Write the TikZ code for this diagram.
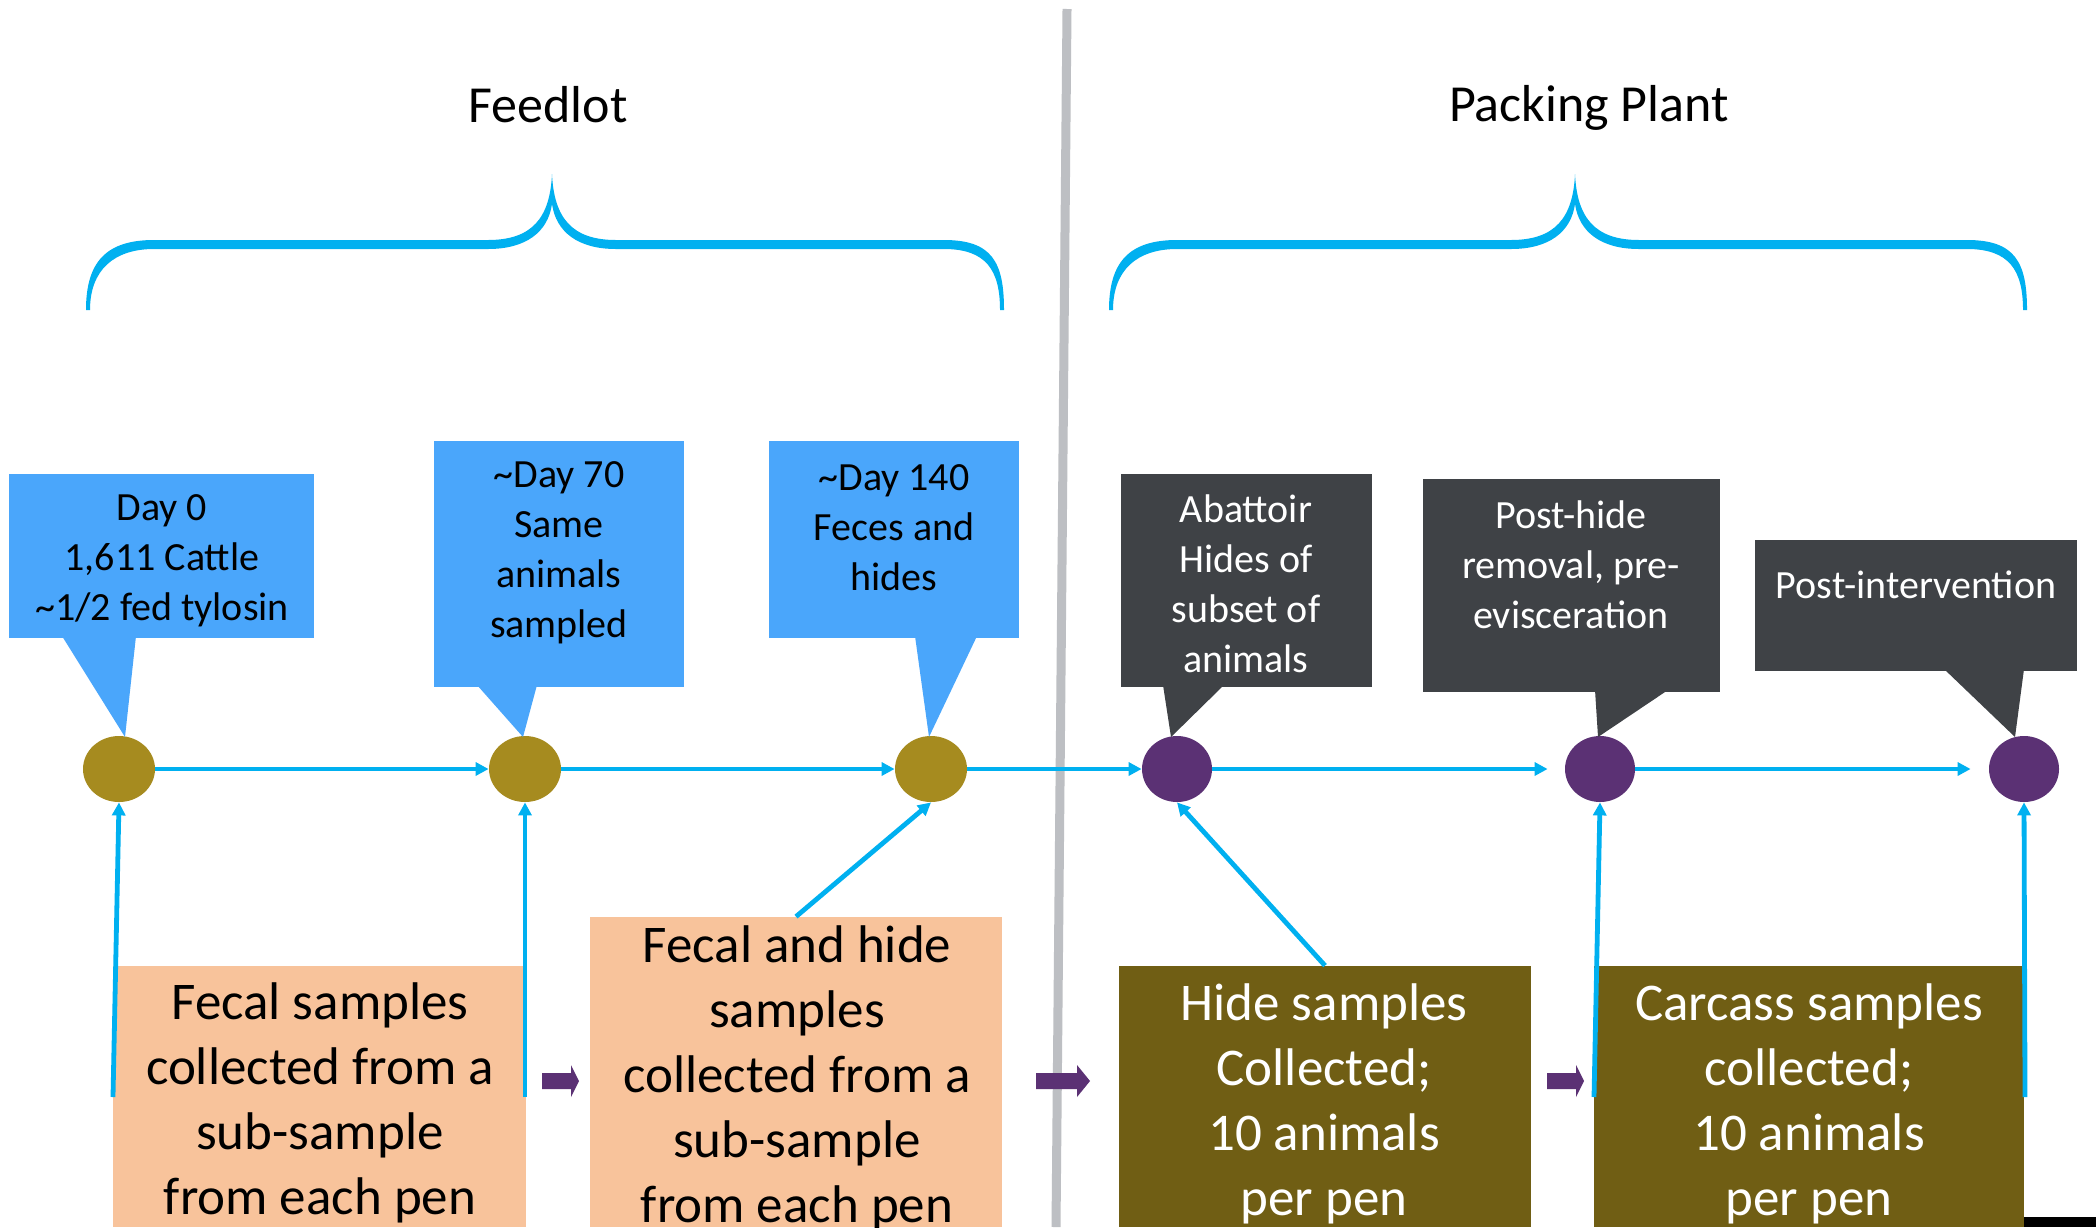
\documentclass[tikz,border=0pt]{standalone}
\usepackage{fontspec}
\setmainfont{Carlito}
\usetikzlibrary{arrows.meta,shapes.geometric}
\definecolor{cline}{RGB}{0,176,240}
\definecolor{cbluebox}{RGB}{74,166,251}
\definecolor{cdark}{RGB}{63,66,70}
\definecolor{colive}{RGB}{166,139,31}
\definecolor{cpurple}{RGB}{91,49,116}
\definecolor{cpeach}{RGB}{248,195,155}
\definecolor{cbrown}{RGB}{112,94,20}
\definecolor{cdiv}{RGB}{189,191,195}
\tikzset{
  box/.style={rectangle, inner sep=0pt, draw=none},
  bluebox/.style={box, fill=cbluebox},
  darkbox/.style={box, fill=cdark},
  peachbox/.style={box, fill=cpeach},
  brownbox/.style={box, fill=cbrown},
  calltext/.style={align=center, inner sep=0pt, font=\fontsize{20}{25}\selectfont},
  bigtext/.style={align=center, inner sep=0pt, font=\fontsize{26.5}{32.5}\selectfont},
  headtext/.style={inner sep=0pt, font=\fontsize{26}{30}\selectfont},
  fdot/.style={ellipse, fill=colive, minimum width=36pt, minimum height=33pt, inner sep=0pt},
  pdot/.style={ellipse, fill=cpurple, minimum width=35pt, minimum height=33pt, inner sep=0pt},
  tl/.style={draw=cline, line width=2.4pt, -{Triangle[length=6.5pt,width=6.5pt]}},
  divider/.style={draw=cdiv, line width=4.5pt},
}
\begin{document}
\begin{tikzpicture}[x=0.5pt,y=-0.5pt]
\useasboundingbox (0,0) rectangle (2096,1227);
\fill[white] (0,0) rectangle (2096,1227);

% divider
\draw[divider] (1067,9) -- (1056,1227);

% braces
\foreach \sx in {0,1023}{
\begin{scope}[shift={(\sx,0)}]
\fill[cline] (86,310) .. controls (86,262) and (106,240) .. (154,240) -- (488,240)
  .. controls (532,240) and (550,218) .. (552,174)
  .. controls (554,218) and (572,240) .. (616,240) -- (944,240)
  .. controls (992,240) and (1004,262) .. (1004,310) -- (1000,310)
  .. controls (1000,270) and (986,249) .. (944,249) -- (616,249)
  .. controls (578,249) and (556,232) .. (552,204)
  .. controls (548,232) and (526,249) .. (488,249) -- (154,249)
  .. controls (114,249) and (90,270) .. (90,310) -- cycle;
\end{scope}}

% headers
\node[headtext] (hfeed) at (548,105) {Feedlot};
\node[headtext] (hpack) at (1589,108) {Packing Plant};

% ellipses
\node[fdot] (e1) at (119,769) {};
\node[fdot] (e2) at (525,769) {};
\node[fdot] (e3) at (931,769) {};
\node[pdot] (e4) at (1177,769) {};
\node[pdot] (e5) at (1600,769) {};
\node[pdot] (e6) at (2024,769) {};

% callout boxes
\node[bluebox, minimum width=152.5pt, minimum height=82pt] (b1) at (161.5,556) {};
\node[bluebox, minimum width=125pt, minimum height=123pt] (b2) at (559,564) {};
\node[bluebox, minimum width=125pt, minimum height=98.5pt] (b3) at (894,539.5) {};
\node[darkbox, minimum width=125.5pt, minimum height=106.5pt] (b4) at (1246.5,580.5) {};
\node[darkbox, minimum width=148.5pt, minimum height=106.5pt] (b5) at (1571.5,585.5) {};
\node[darkbox, minimum width=161pt, minimum height=65.5pt] (b6) at (1916,605.5) {};

% callout pointers
\fill[cbluebox] (62,636) -- (136,636) -- (125,737) -- cycle;
\fill[cbluebox] (477,685) -- (537,685) -- (523,737) -- cycle;
\fill[cbluebox] (915,636) -- (977,636) -- (929,737) -- cycle;
\fill[cdark] (1163,685) -- (1224,685) -- (1171,737) -- cycle;
\fill[cdark] (1595,690) -- (1668,690) -- (1598,737) -- cycle;
\fill[cdark] (1944,669) -- (2024,669) -- (2015,737) -- cycle;

% callout texts
\node[calltext] (t1) at (162,561) {Day 0\\1,611 Cattle\\\textasciitilde1/2 fed tylosin};
\node[calltext] (t2) at (559,553) {\textasciitilde Day 70\\Same\\animals\\sampled};
\node[calltext] (t3) at (894,528) {\textasciitilde Day 140\\Feces and\\hides};
\node[calltext, text=white] (t4) at (1246,584) {Abattoir\\Hides of\\subset of\\animals};
\node[calltext, text=white] (t5) at (1571,565) {Post-hide\\removal, pre-\\evisceration};
\node[calltext, text=white] (t6) at (1916,585) {Post-intervention};

% timeline
\draw[tl] (e1) -- (e2);
\draw[tl] (e2) -- (e3);
\draw[tl] (e3) -- (e4);
\draw[tl, shorten >=8.5pt] (e4) -- (e5);
\draw[tl, shorten >=9pt] (e5) -- (e6);

% bottom boxes
\node[peachbox, minimum width=206.5pt, minimum height=130.5pt] (bA) at (319.5,1096.5) {};
\node[peachbox, minimum width=206pt, minimum height=155pt] (bB) at (796,1072) {};
\node[brownbox, minimum width=206pt, minimum height=130.5pt] (bC) at (1325,1096.5) {};
\node[brownbox, minimum width=215pt, minimum height=130.5pt] (bD) at (1809,1096.5) {};

\node[bigtext] (tA) at (320,1103) {Fecal samples\\collected from a\\sub-sample\\from each pen};
\node[bigtext] (tB) at (797,1078) {Fecal and hide\\samples\\collected from a\\sub-sample\\from each pen};
\node[bigtext, text=white] (tC) at (1324,1104) {Hide samples\\Collected;\\10 animals\\per pen};
\node[bigtext, text=white] (tD) at (1809,1104) {Carcass samples\\collected;\\10 animals\\per pen};

% vertical connectors
\coordinate (c1) at (113,1097);
\coordinate (c2) at (525,1097);
\coordinate (c5) at (1594,1097);
\coordinate (c6) at (2025,1097);
\draw[tl] (c1) -- (e1.south);
\draw[tl] (c2) -- (e2.south);
\draw[tl] (bB.north) -- (e3.south);
\draw[tl] (bC.north) -- (e4.south);
\draw[tl] (c5) -- (e5.south);
\draw[tl] (c6) -- (e6.south);

% purple block arrows
\fill[cpurple] (542,1073) -- (571,1073) -- (571,1065) -- (579,1081) -- (571,1097) -- (571,1089) -- (542,1089) -- cycle;
\fill[cpurple] (1036,1073) -- (1077,1073) -- (1077,1065) -- (1090,1081) -- (1077,1097) -- (1077,1089) -- (1036,1089) -- cycle;
\fill[cpurple] (1547,1073) -- (1576,1073) -- (1576,1065) -- (1584,1081) -- (1576,1097) -- (1576,1089) -- (1547,1089) -- cycle;

% black bar
\fill[black] (2024,1217) rectangle (2096,1227);
\end{tikzpicture}
\end{document}
